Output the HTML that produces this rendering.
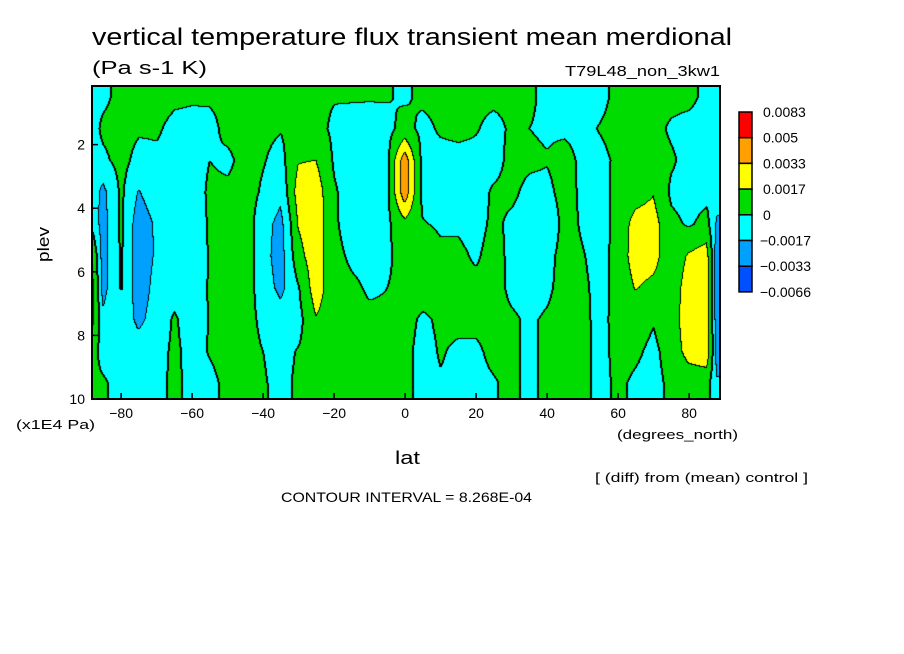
<!DOCTYPE html>
<html><head><meta charset="utf-8"><style>
html,body{margin:0;padding:0;background:#fff;}
#wrap{position:relative;width:904px;height:654px;overflow:hidden;background:#fff;}
#plot{position:absolute;left:92px;top:86px;}
svg{position:absolute;left:0;top:0;}
text{font-family:"Liberation Sans",sans-serif;fill:#000;}
</style></head><body>
<div id="wrap">
<canvas id="plot" width="628" height="313"></canvas>
<svg id="svg" width="904" height="654">
<text x="92" y="45" font-size="24" textLength="640" lengthAdjust="spacingAndGlyphs">vertical temperature flux transient mean merdional</text>
<text x="92" y="74" font-size="18" textLength="115" lengthAdjust="spacingAndGlyphs">(Pa s-1 K)</text>
<text x="565" y="76" font-size="15" textLength="155" lengthAdjust="spacingAndGlyphs">T79L48_non_3kw1</text>
<text x="0" y="0" font-size="17" transform="translate(49,262) rotate(-90)" textLength="35" lengthAdjust="spacingAndGlyphs">plev</text>
<text x="16" y="429" font-size="13" textLength="79" lengthAdjust="spacingAndGlyphs">(x1E4 Pa)</text>
<text x="617" y="439" font-size="13" textLength="121" lengthAdjust="spacingAndGlyphs">(degrees_north)</text>
<text x="395" y="464" font-size="18" textLength="25" lengthAdjust="spacingAndGlyphs">lat</text>
<text x="595" y="482" font-size="13" textLength="213" lengthAdjust="spacingAndGlyphs">[ (diff) from (mean) control ]</text>
<text x="281" y="502" font-size="14" textLength="251" lengthAdjust="spacingAndGlyphs">CONTOUR INTERVAL = 8.268E-04</text>
<rect x="92" y="86" width="628" height="313" fill="none" stroke="#000" stroke-width="2"/>
<g id="ticks"></g>
<g id="legend"></g>
</svg>
</div>
<script>
// ---- data ----
const lats = [-88,-85,-80,-75,-70,-65,-60,-55,-50,-45,-40,-35,-30,-25,-20,-15,-10,-5,0,5,10,15,20,25,30,35,40,45,50,55,60,65,70,75,80,85,88];
const plevs = [0.5,1.5,2.5,3.5,4.5,5.5,6.5,7.5,8.5,9.5];
// values in units of 1e-3, one profile (top->bottom) per latitude
const values = [
[-0.3,-0.5,-0.6,-0.8,-0.5,1.5,2.2,2.2,0.5,0.3],
[-0.3,0.3,-0.3,-2.2,-2.4,-2.4,-2.3,-1.3,-0.6,0.2],
[0.4,0.5,0.5,0.3,0.3,0.2,0.1,-0.5,-0.6,-0.6],
[0.5,0.2,-0.5,-1.8,-2.6,-2.7,-2.6,-2.1,-0.9,-0.5],
[0.5,0.2,-0.3,-0.8,-1.5,-1.5,-1.2,-1.0,-0.6,-0.4],
[0.3,-0.4,-0.6,-0.9,-1.1,-1.0,-0.6,0.2,0.3,0.3],
[0.2,-0.5,-0.7,-0.9,-1.4,-1.6,-1.2,-0.8,-0.5,-0.4],
[0.2,-0.4,0.0,0.3,0.3,0.2,0.2,0.1,0.1,-0.3],
[0.3,0.4,-0.3,0.3,0.5,1.0,0.5,0.5,0.4,0.3],
[0.4,0.5,0.5,0.6,0.8,1.0,0.7,0.5,0.4,0.2],
[0.4,0.3,0.1,-0.2,-0.9,-1.0,-0.7,-0.3,0.0,0.1],
[0.3,0.1,-0.5,-1.2,-2.3,-2.5,-2.2,-0.8,-0.4,-0.3],
[0.3,0.5,1.6,2.4,1.8,1.2,-0.1,-0.5,0.1,0.2],
[0.3,0.5,1.7,2.7,2.7,2.6,2.6,1.6,0.6,0.4],
[0.1,-0.3,-0.2,0.2,0.3,0.5,0.6,0.8,0.6,0.4],
[0.1,-0.4,-0.8,-0.8,-0.9,-0.3,0.3,0.4,0.4,0.3],
[0.1,-0.5,-1.4,-1.7,-0.8,-0.5,-0.2,0.3,0.3,0.3],
[0.1,-0.4,-0.4,-0.4,-0.3,-0.2,0.0,0.2,0.3,0.3],
[-0.2,0.5,4.3,4.4,1.2,0.5,0.3,0.4,0.3,0.3],
[0.3,-0.4,-0.6,-0.5,0.1,0.9,0.6,-0.2,-0.4,-0.4],
[0.4,0.2,-0.5,-0.6,-0.2,0.3,0.4,0.2,0.1,-0.1],
[0.4,0.4,-0.5,-0.6,-0.2,0.3,0.4,0.3,-0.2,-0.3],
[0.3,0.1,-0.4,-0.6,-0.5,-0.2,0.4,0.3,-0.2,-0.3],
[0.3,-0.4,-0.5,0.2,0.3,0.6,0.5,0.4,0.3,-0.1],
[0.3,0.2,0.4,0.3,-0.3,-0.4,-0.3,0.2,0.3,0.3],
[0.2,0.0,0.3,-0.4,-0.6,-0.7,-0.6,-0.2,-0.3,-0.3],
[-0.3,-0.2,0.1,-0.4,-1.3,-0.5,-0.3,0.2,0.3,0.3],
[-0.4,-0.3,0.6,0.6,0.6,0.6,0.6,0.6,0.5,0.4],
[-0.4,-0.4,-0.4,-0.3,-0.2,0.1,0.3,0.4,0.4,0.3],
[-0.4,0.1,-0.4,-0.6,-0.7,-0.6,-0.5,-0.5,-0.4,-0.3],
[0.4,0.5,0.3,0.5,0.6,0.6,0.5,0.6,0.4,0.2],
[0.5,0.3,0.5,1.0,2.3,2.5,1.8,0.6,0.2,-0.2],
[0.5,0.4,0.6,1.6,2.4,2.3,1.3,0.1,-0.3,-0.4],
[0.4,-0.2,0.2,-0.3,0.4,0.6,0.8,0.9,0.6,0.3],
[0.3,-0.4,-0.5,-0.6,-0.2,1.9,2.4,2.6,2.4,0.6],
[-0.3,-0.5,-0.6,-0.4,0.5,2.5,3.0,3.0,3.0,0.5],
[-0.3,-0.3,-0.5,-0.8,-2.0,-2.8,-3.0,-2.8,-2.5,-1.5]
];
const levels = [-6.6,-3.3,-1.7,0,1.7,3.3,5.0,8.3];
const levelLabels = ["-0.0066","-0.0033","-0.0017","0","0.0017","0.0033","0.005","0.0083"];
const colors = ["#0050ff","#00a0ff","#00ffff","#00dc00","#ffff00","#ffa000","#ff0000"];
const xTicks = [-80,-60,-40,-20,0,20,40,60,80];
const yTicks = [2,4,6,8,10];

// ---- axes ----
const X0=92, Y0=86, W=628, H=313;
function xOf(lat){ return 92 + (lat + 88.2) * 3.55; }
function latOf(x){ return (x - 92) / 3.55 - 88.2; }
function yOf(p){ return 399 - (10 - p) * 31.8; }
function pOf(y){ return 10 - (399 - y) / 31.8; }

function sample(lat,p){
  let i=0; while(i<lats.length-2 && lat>lats[i+1]) i++;
  let tx=(lat-lats[i])/(lats[i+1]-lats[i]); tx=Math.max(0,Math.min(1,tx));
  let j=0; while(j<plevs.length-2 && p>plevs[j+1]) j++;
  let ty=(p-plevs[j])/(plevs[j+1]-plevs[j]); ty=Math.max(0,Math.min(1,ty));
  const a=values[i][j],b=values[i+1][j],c=values[i][j+1],d=values[i+1][j+1];
  return (a*(1-tx)+b*tx)*(1-ty)+(c*(1-tx)+d*tx)*ty;
}
function levelIdx(v){ for(let k=0;k<colors.length;k++){ if(v<levels[k+1]) return k; } return colors.length-1; }
function hex(c){ return [parseInt(c.substr(1,2),16),parseInt(c.substr(3,2),16),parseInt(c.substr(5,2),16)]; }

const cv=document.getElementById('plot'); const ctx=cv.getContext('2d');
const img=ctx.createImageData(W,H);
const V=new Float32Array(W*H);
for(let y=0;y<H;y++) for(let x=0;x<W;x++) V[y*W+x]=sample(latOf(X0+x+0.5),pOf(Y0+y+0.5));
for(let y=0;y<H;y++) for(let x=0;x<W;x++){
  const v=V[y*W+x]; const k=levelIdx(v);
  let col=hex(colors[k]);
  const s=v>=0;
  const r=x<W-1?V[y*W+x+1]:v, dn=y<H-1?V[(y+1)*W+x]:v;
  const l=x>0?V[y*W+x-1]:v;
  if((r>=0)!==s||(dn>=0)!==s||(l>=0)!==s) col=[0,0,0];
  else {
    const kr=levelIdx(r), kd=levelIdx(dn);
    if(kr!==k||kd!==k) col=[0,0,0];
  }
  const o=(y*W+x)*4; img.data[o]=col[0];img.data[o+1]=col[1];img.data[o+2]=col[2];img.data[o+3]=255;
}
ctx.putImageData(img,0,0);

const NS="http://www.w3.org/2000/svg";
const tg=document.getElementById('ticks');
xTicks.forEach(t=>{
  const x=xOf(t);
  const ln=document.createElementNS(NS,'line');
  ln.setAttribute('x1',x);ln.setAttribute('x2',x);ln.setAttribute('y1',399);ln.setAttribute('y2',393);
  ln.setAttribute('stroke','#000');ln.setAttribute('stroke-width','1.5');
  
  
  tg.appendChild(ln);
  const tx=document.createElementNS(NS,'text');
  tx.setAttribute('x',x);tx.setAttribute('y',418);tx.setAttribute('font-size','14');tx.setAttribute('text-anchor','middle');
  tx.textContent=String(t).replace('-','\u2212');
  
  
  tg.appendChild(tx);
});
yTicks.forEach(t=>{
  const y=yOf(t);
  const ln=document.createElementNS(NS,'line');
  ln.setAttribute('x1',92);ln.setAttribute('x2',98);ln.setAttribute('y1',y);ln.setAttribute('y2',y);
  ln.setAttribute('stroke','#000');ln.setAttribute('stroke-width','1.5');
  
  
  tg.appendChild(ln);
  const tx=document.createElementNS(NS,'text');
  tx.setAttribute('x',85);tx.setAttribute('y',y+5);tx.setAttribute('font-size','14');tx.setAttribute('text-anchor','end');
  tx.textContent=String(t);
  
  
  tg.appendChild(tx);
});
// legend
const lg=document.getElementById('legend');
const boxH=25.7, legTop=112;
for(let k=0;k<colors.length;k++){
  const idx=colors.length-1-k;
  const r=document.createElementNS(NS,'rect');
  r.setAttribute('x',739);r.setAttribute('y',legTop+k*boxH);r.setAttribute('width',13);r.setAttribute('height',boxH);
  r.setAttribute('fill',colors[idx]);r.setAttribute('stroke','#000');r.setAttribute('stroke-width','1.5');
  
  
  lg.appendChild(r);
}
for(let k=0;k<levelLabels.length;k++){
  const lab=levelLabels[levelLabels.length-1-k];
  const t=document.createElementNS(NS,'text');
  t.setAttribute('x', lab.startsWith('-')?760:763);
  t.setAttribute('y',legTop+k*boxH+5);t.setAttribute('font-size','14');
  t.textContent=lab.replace('-','\u2212');
  
  
  lg.appendChild(t);
}
</script>
</body></html>
